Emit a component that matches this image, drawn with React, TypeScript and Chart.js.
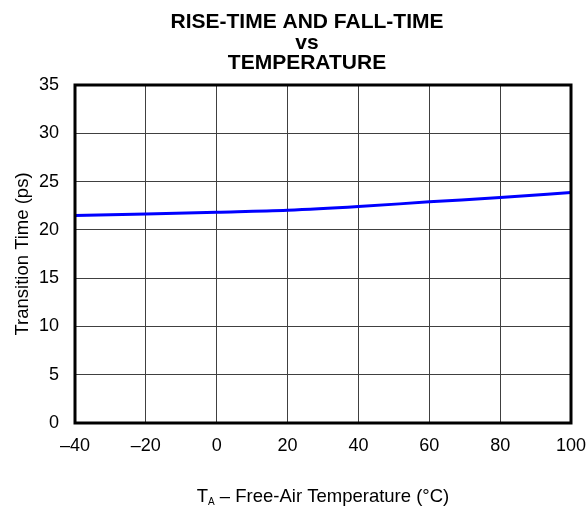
import { useEffect, useRef } from 'react';
import { Chart, registerables } from 'chart.js';

Chart.register(...registerables);

const temperatures = [-40, -20, 0, 20, 40, 60, 80, 100];
const transitionTimes = [21.48, 21.65, 21.83, 22.03, 22.41, 22.9, 23.35, 23.87];
const xTickValues = [-40, -20, 0, 20, 40, 60, 80, 100];
const yTickValues = [0, 5, 10, 15, 20, 25, 30, 35];
const titleLines = ['RISE-TIME AND FALL-TIME', 'vs', 'TEMPERATURE'];
const yAxisTitle = 'Transition Time (ps)';
const xTitleMain = 'T';
const xTitleSub = 'A';
const xTitleRest = ' – Free-Air Temperature (°C)';

const FONT = "'Liberation Sans', Arial, sans-serif";

const decorations = {
  id: 'decorations',
  afterDraw(chart: any) {
    const { ctx, chartArea } = chart;
    ctx.save();
    // frame
    ctx.strokeStyle = '#000';
    ctx.lineWidth = 3;
    ctx.strokeRect(chartArea.left, chartArea.top, chartArea.right - chartArea.left, chartArea.bottom - chartArea.top);

    ctx.fillStyle = '#000';
    // title
    ctx.textAlign = 'center';
    ctx.textBaseline = 'alphabetic';
    ctx.font = `bold 21px ${FONT}`;
    const titleX = 307;
    const baselines = [28, 48.5, 69];
    titleLines.forEach((line, i) => ctx.fillText(line, titleX, baselines[i]));

    // y axis title
    const cy = (chartArea.top + chartArea.bottom) / 2;
    ctx.save();
    ctx.translate(28, cy);
    ctx.rotate(-Math.PI / 2);
    ctx.textAlign = 'center';
    ctx.textBaseline = 'alphabetic';
    ctx.font = `18.5px ${FONT}`;
    ctx.fillText(yAxisTitle, 0, 0);
    ctx.restore();

    // x axis title with subscript
    const cx = (chartArea.left + chartArea.right) / 2;
    const y = 502;
    ctx.textAlign = 'left';
    ctx.textBaseline = 'alphabetic';
    ctx.font = `18.5px ${FONT}`;
    const wMain = ctx.measureText(xTitleMain).width;
    const wRest = ctx.measureText(xTitleRest).width;
    ctx.font = `10px ${FONT}`;
    const wSub = ctx.measureText(xTitleSub).width;
    let x = cx - (wMain + wSub + wRest) / 2;
    ctx.font = `18.5px ${FONT}`;
    ctx.fillText(xTitleMain, x, y);
    x += wMain;
    ctx.font = `10px ${FONT}`;
    ctx.fillText(xTitleSub, x, y + 3);
    x += wSub;
    ctx.font = `18.5px ${FONT}`;
    ctx.fillText(xTitleRest, x, y);
    ctx.restore();
  },
};

export default function App() {
  const canvasRef = useRef<HTMLCanvasElement | null>(null);

  useEffect(() => {
    document.body.style.margin = '0';
    const canvas = canvasRef.current;
    if (!canvas) return;
    const chart = new Chart(canvas, {
      type: 'line',
      data: {
        datasets: [
          {
            data: temperatures.map((t, i) => ({ x: t, y: transitionTimes[i] })),
            borderColor: '#0000ff',
            borderWidth: 3,
            pointRadius: 0,
            cubicInterpolationMode: 'monotone',
            fill: false,
          },
        ],
      },
      options: {
        responsive: false,
        animation: false,
        layout: { padding: { left: 0, right: 16, top: 85, bottom: 0 } },
        plugins: {
          legend: { display: false },
          tooltip: { enabled: false },
          title: { display: false },
        },
        scales: {
          x: {
            type: 'linear',
            min: -40,
            max: 100,
            afterBuildTicks: (scale: any) => {
              scale.ticks = xTickValues.map((v) => ({ value: v }));
            },
            afterFit: (scale: any) => {
              scale.height = 83;
              scale.paddingLeft = 0;
              scale.paddingRight = 0;
            },
            ticks: {
              color: '#000',
              font: { family: FONT, size: 18 },
              padding: 12,
              maxRotation: 0,
              autoSkip: false,
              callback: (v: any) => String(v).replace('-', '–'),
            },
            grid: { color: '#404040', lineWidth: 1, drawTicks: false },
            border: { display: false },
          },
          y: {
            type: 'linear',
            min: 0,
            max: 35,
            afterBuildTicks: (scale: any) => {
              scale.ticks = yTickValues.map((v) => ({ value: v }));
            },
            afterFit: (scale: any) => {
              scale.width = 75;
              scale.paddingTop = 0;
              scale.paddingBottom = 0;
            },
            ticks: {
              color: '#000',
              font: { family: FONT, size: 18 },
              padding: 16,
              autoSkip: false,
            },
            grid: { color: '#404040', lineWidth: 1, drawTicks: false },
            border: { display: false },
          },
        },
      },
      plugins: [decorations],
    });
    return () => chart.destroy();
  }, []);

  return (
    <div style={{ width: 587, height: 506, background: '#fff' }}>
      <canvas ref={canvasRef} width={587} height={506} style={{ display: 'block' }} />
    </div>
  );
}
